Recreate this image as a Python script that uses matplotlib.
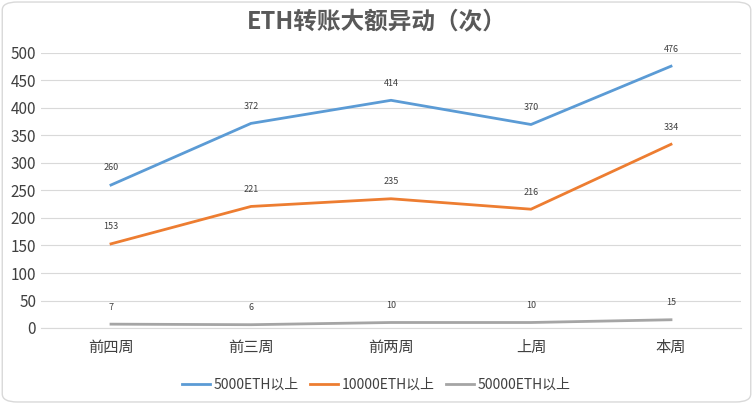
import matplotlib.pyplot as plt
from matplotlib.patches import FancyBboxPatch

plt.rcParams["font.sans-serif"] = ["Noto Sans CJK SC", "DejaVu Sans"]

categories = ["前四周", "前三周", "前两周", "上周", "本周"]
eth_5000 = [260, 372, 414, 370, 476]
eth_10000 = [153, 221, 235, 216, 334]
eth_50000 = [7, 6, 10, 10, 15]
series_names = ["5000ETH以上", "10000ETH以上", "50000ETH以上"]
colors = ["#5B9BD5", "#ED7D31", "#A5A5A5"]

fig = plt.figure(figsize=(7.53, 4.04), dpi=100)
fig.patches.append(FancyBboxPatch((0.003, 0.005), 0.994, 0.99, boxstyle="round,pad=0,rounding_size=0.02",
                                  transform=fig.transFigure, fill=False, edgecolor="#D9D9D9", linewidth=1))
ax = fig.add_axes([41 / 753, 76 / 404, 700 / 753, 275 / 404])

x = range(len(categories))
for values, name, color in zip([eth_5000, eth_10000, eth_50000], series_names, colors):
    ax.plot(x, values, color=color, linewidth=2, label=name)
    for xi, v in zip(x, values):
        ax.annotate(str(v), (xi, v), xytext=(0, 9), textcoords="offset points",
                    ha="center", va="bottom", fontsize=6.5, color="#404040")

ax.set_xlim(-0.5, 4.5)
ax.set_ylim(0, 500)
ax.set_yticks(range(0, 501, 50))
ax.set_xticks(list(x))
ax.set_xticklabels(categories, fontsize=11, color="#404040")
ax.tick_params(axis="y", labelsize=11, labelcolor="#404040", length=0)
ax.tick_params(axis="x", length=0, pad=8)
ax.grid(axis="y", color="#D9D9D9", linewidth=0.8)
ax.set_axisbelow(True)
for side in ["top", "right", "left"]:
    ax.spines[side].set_visible(False)
ax.spines["bottom"].set_color("#D9D9D9")

fig.suptitle("ETH转账大额异动（次）", x=0.5, y=0.975, fontsize=17, fontweight="bold", color="#595959")
fig.legend(loc="lower center", bbox_to_anchor=(0.5, 0.0), ncol=3, frameon=False, fontsize=10,
           labelcolor="#404040", handlelength=2.0, handletextpad=0.3, columnspacing=0.8)
fig.savefig("out.png", dpi=100)
